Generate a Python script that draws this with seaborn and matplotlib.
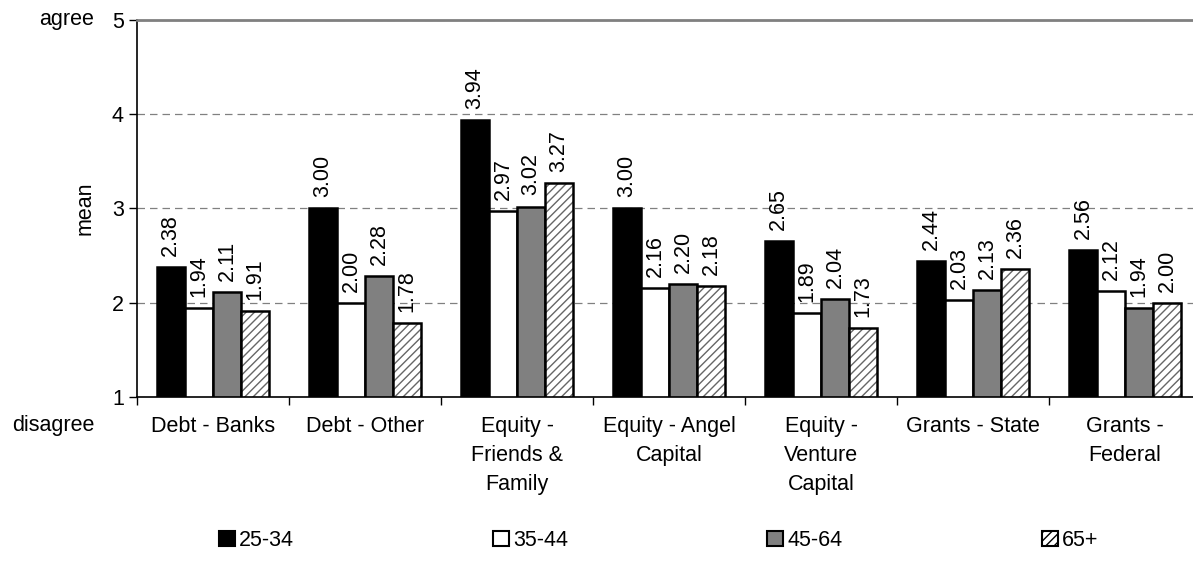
import pandas as pd
import seaborn as sns
import matplotlib.pyplot as plt
from matplotlib.patches import Patch, Rectangle

# Datos
categorias = ['Debt - Banks', 'Debt - Other', 'Equity -\nFriends &\nFamily',
              'Equity - Angel\nCapital', 'Equity -\nVenture\nCapital',
              'Grants - State', 'Grants -\nFederal']
edades = ['25-34', '35-44', '45-64', '65+']
v_25_34 = [2.38, 3.00, 3.94, 3.00, 2.65, 2.44, 2.56]
v_35_44 = [1.94, 2.00, 2.97, 2.16, 1.89, 2.03, 2.12]
v_45_64 = [2.11, 2.28, 3.02, 2.20, 2.04, 2.13, 1.94]
v_65 = [1.91, 1.78, 3.27, 2.18, 1.73, 2.36, 2.00]

df = pd.DataFrame({'categoria': categorias * 4,
                   'edad': [e for e in edades for _ in categorias],
                   'mean': v_25_34 + v_35_44 + v_45_64 + v_65})

sns.set_style('white')
plt.rcParams['font.family'] = ['Liberation Sans', 'DejaVu Sans']
plt.rcParams['hatch.linewidth'] = 1.0
for k in ['text.color', 'axes.labelcolor', 'xtick.color', 'ytick.color']:
    plt.rcParams[k] = 'black'
fs = 15.5

fig = plt.figure(figsize=(11.93, 5.69), dpi=100)
ax = fig.add_axes([0.1148, 0.3023, 0.892, 0.6626])

colores = {'25-34': 'black', '35-44': 'white', '45-64': '#808080', '65+': 'white'}
sns.barplot(data=df, x='categoria', y='mean', hue='edad', palette=colores,
            width=0.74, gap=0, edgecolor='black', linewidth=1.8, ax=ax, legend=False)

# Trama gris para 65+ y contorno negro encima
for barra in list(ax.containers[3]):
    barra.set_hatch('////')
    barra.set_edgecolor('#666666')
    barra.set_linewidth(0)
    ax.add_patch(Rectangle(barra.get_xy(), barra.get_width(), barra.get_height(),
                           fill=False, edgecolor='black', linewidth=1.8, zorder=barra.get_zorder()))

for cont in ax.containers:
    ax.bar_label(cont, fmt='%.2f', rotation=90, padding=8, fontsize=fs, color='black')

ax.set_ylim(1, 5)
ax.set_xlim(-0.5, 6.5)
ax.set_yticks([1, 2, 3, 4, 5])
ax.yaxis.grid(True, linestyle=(0, (6, 4)), color='#808080', linewidth=0.9)
ax.set_axisbelow(True)

# ticks en los limites, etiquetas en el centro
ax.set_xticks([i - 0.5 for i in range(8)])
ax.set_xticklabels([])
ax.set_xticks(range(7), minor=True)
ax.set_xticklabels(categorias, minor=True, fontsize=fs, linespacing=1.5)
ax.tick_params(axis='x', which='major', direction='out', length=6, width=1, color='black', bottom=True)
ax.tick_params(axis='x', which='minor', length=0, pad=14)
ax.tick_params(axis='y', direction='out', length=6, width=1, color='black', left=True, labelsize=fs)

for s in ['left', 'bottom']:
    ax.spines[s].set_color('black')
    ax.spines[s].set_linewidth(1.2)
ax.spines['top'].set_color('#808080')
ax.spines['top'].set_linewidth(2)
ax.spines['right'].set_visible(False)

ax.set_xlabel('')
ax.set_ylabel('mean', fontsize=fs, labelpad=12)

ax.text(-0.04, 5, 'agree', transform=ax.get_yaxis_transform(), ha='right', va='center', fontsize=fs)
ax.text(-0.04, 0.70, 'disagree', transform=ax.get_yaxis_transform(), ha='right', va='center', fontsize=fs)

handles = [Patch(facecolor=colores[e], edgecolor='black', linewidth=1.5,
                 hatch='////' if e == '65+' else None) for e in edades]
fig.legend(handles, edades, loc='center', ncol=4, mode='expand', frameon=False,
           bbox_to_anchor=(0.176, 0.03, 0.752, 0.04), fontsize=fs,
           handlelength=0.75, handleheight=0.75, handletextpad=0.2, borderaxespad=0)

plt.savefig('out.png', dpi=100)
